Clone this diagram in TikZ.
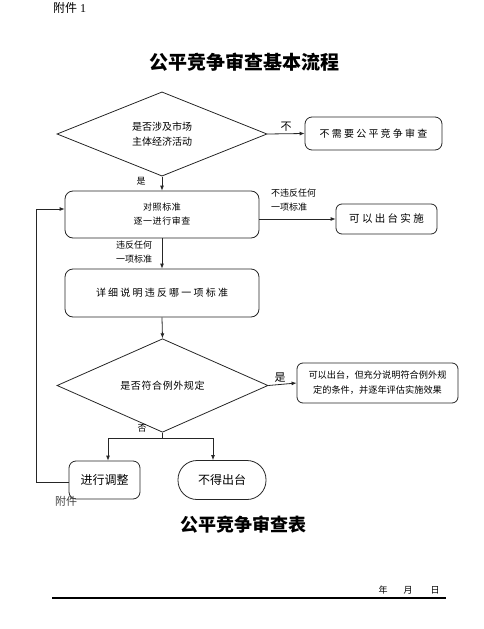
\documentclass[tikz,border=0pt]{standalone}
\usepackage{fontspec}
\setmainfont{Liberation Serif}
\newfontfamily\cjk{Noto Sans CJK SC}
\newfontfamily\cjksp[LetterSpace=22]{Noto Sans CJK SC}
\newfontfamily\cjkspb[LetterSpace=6]{Noto Sans CJK SC}
\usetikzlibrary{shapes.geometric,arrows.meta}
\begin{document}
\begin{tikzpicture}[x=1pt,y=-1pt,
  line/.style={draw=black!85,line width=0.8pt},
  arr/.style={line,-{Latex[length=5pt,width=4pt]}},
  dia/.style={diamond,draw=black!85,line width=0.8pt,inner sep=0pt,minimum width=210pt,minimum height=67pt,align=center,font=\cjk\fontsize{10}{15}\selectfont},
  rbox/.style={rectangle,rounded corners=7pt,draw=black!85,line width=0.8pt,inner sep=0pt,align=center},
  lab/.style={inner sep=0pt,align=left,font=\cjk\fontsize{9}{14}\selectfont}]
\useasboundingbox (0,0) rectangle (484,629);
% headers
\node[anchor=west,inner sep=0pt,font=\fontsize{12}{13}\selectfont] (att1) at (53,8) {{\cjk 附件} 1};
\node[inner sep=0pt,font=\cjk\bfseries\fontsize{19}{22}\selectfont] (title1) at (244,62) {公平竞争审查基本流程};
% nodes
\node[dia] (d1) at (162,134) {是否涉及市场\\主体经济活动};
\node[rbox,minimum width=137pt,minimum height=33pt,font=\cjksp\fontsize{10}{12}\selectfont] (n1) at (373.5,133.5) {不需要公平竞争审查};
\node[rbox,rounded corners=8pt,minimum width=194pt,minimum height=47pt,font=\cjkspb\fontsize{9}{14}\selectfont] (b2) at (162,214.5) {对照标准\\逐一进行审查};
\node[rbox,rounded corners=6pt,minimum width=101pt,minimum height=30pt,font=\cjksp\fontsize{10.5}{12}\selectfont] (b3) at (386.5,219) {可以出台实施};
\node[rbox,rounded corners=8pt,minimum width=194pt,minimum height=48pt,font=\cjksp\fontsize{10}{12}\selectfont] (b4) at (162,293) {详细说明违反哪一项标准};
\node[dia,minimum width=211pt,minimum height=71pt,font=\cjkspb\fontsize{10}{12}\selectfont] (d2) at (162.5,385.5) {是否符合例外规定};
\node[rbox,rounded corners=6pt,minimum width=161pt,minimum height=40pt,font=\cjk\fontsize{9.2}{15}\selectfont] (b5) at (377.5,383) {可以出台，但充分说明符合例外规\\定的条件，并逐年评估实施效果};
\node[rbox,minimum width=71pt,minimum height=38pt,font=\cjk\fontsize{12}{14}\selectfont] (b6) at (104.5,480) {进行调整};
\node[rbox,rounded corners=19pt,minimum width=88pt,minimum height=39pt,font=\cjk\fontsize{12}{14}\selectfont] (b7) at (222,480) {不得出台};
% connectors
\draw[arr] (d1.east) -- (n1.west);
\node[lab,font=\cjk\fontsize{11}{12}\selectfont] (lno1) at (286,127) {不};
\draw[arr] (d1.south) -- (b2.north);
\node[lab] (lyes1) at (141,181) {是};
\draw[arr] (b3.west -| b2.east) -- (b3.west);
\node[lab,anchor=north west] (lnv) at (271,189) {不违反任何\\一项标准};
\draw[arr] (b2.south) -- (b4.north);
\node[lab,anchor=north] (lv) at (134,241) {违反任何\\一项标准};
\draw[arr] (b4.south) -- (d2.north);
\draw[arr] (d2.east) -- (b5.west);
\node[lab,font=\cjk\fontsize{11}{12}\selectfont] (lyes2) at (280,378) {是};
\coordinate (split) at (162.5,438);
\draw[line] (d2.south) -- (split);
\draw[arr] (split) -| ([xshift=3.5pt]b6.north);
\draw[arr] (split) -| ([xshift=-9pt]b7.north);
\node[lab] (lno2) at (142,428) {否};
\draw[arr] ([yshift=-2pt]b6.west) -- ++(-32,0) |- ([yshift=5.5pt]b2.west);
% bottom part
\node[inner sep=0pt,font=\cjk\fontsize{11}{12}\selectfont,text=black!75] (att2) at (66,501) {附件};
\node[inner sep=0pt,font=\cjk\bfseries\fontsize{18}{22}\selectfont] (title2) at (243,525) {公平竞争审查表};
\node[inner sep=0pt,font=\cjk\fontsize{9}{10}\selectfont] (ny) at (383,590) {年};
\node[inner sep=0pt,font=\cjk\fontsize{9}{10}\selectfont] (nm) at (408,590) {月};
\node[inner sep=0pt,font=\cjk\fontsize{9}{10}\selectfont] (nd) at (435,590) {日};
\coordinate (rl) at (52,598);
\coordinate (rr) at (446,598);
\draw[line width=1.2pt] (rl) -- (rr);
\end{tikzpicture}
\end{document}
